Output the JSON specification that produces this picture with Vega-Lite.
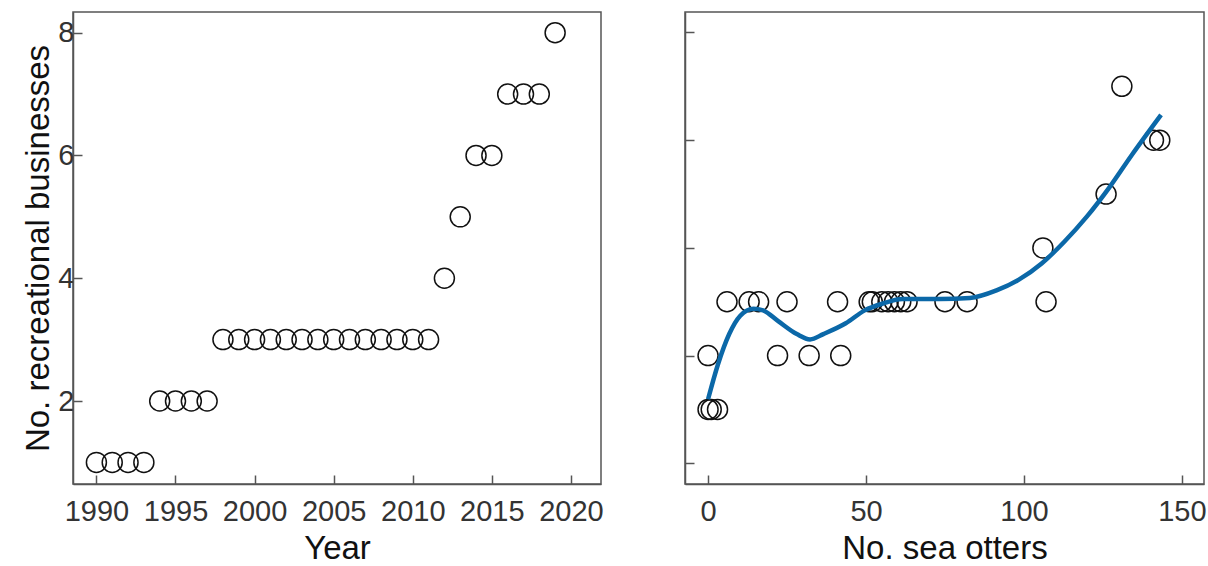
{
  "$schema": "https://vega.github.io/schema/vega-lite/v6.json",
  "padding": {"left": 22, "top": 11, "right": 0, "bottom": 0},
  "background": "white",
  "bounds": "flush",
  "spacing": 84,
  "config": {
    "font": "Liberation Sans",
    "view": {"stroke": "#555555", "strokeWidth": 1.5},
    "axis": {
      "grid": false,
      "domainColor": "#555555",
      "domainWidth": 1.5,
      "tickColor": "#555555",
      "tickWidth": 1.5,
      "tickSize": -9,
      "labelFont": "Liberation Sans",
      "labelFontSize": 29,
      "labelColor": "#333333",
      "titleFont": "Liberation Sans",
      "titleFontSize": 33,
      "titleFontWeight": "normal",
      "titleColor": "#111111"
    }
  },
  "datasets": {
    "years": [
      {"year": 1990, "n": 1}, {"year": 1991, "n": 1}, {"year": 1992, "n": 1}, {"year": 1993, "n": 1},
      {"year": 1994, "n": 2}, {"year": 1995, "n": 2}, {"year": 1996, "n": 2}, {"year": 1997, "n": 2},
      {"year": 1998, "n": 3}, {"year": 1999, "n": 3}, {"year": 2000, "n": 3}, {"year": 2001, "n": 3},
      {"year": 2002, "n": 3}, {"year": 2003, "n": 3}, {"year": 2004, "n": 3}, {"year": 2005, "n": 3},
      {"year": 2006, "n": 3}, {"year": 2007, "n": 3}, {"year": 2008, "n": 3}, {"year": 2009, "n": 3},
      {"year": 2010, "n": 3}, {"year": 2011, "n": 3}, {"year": 2012, "n": 4}, {"year": 2013, "n": 5},
      {"year": 2014, "n": 6}, {"year": 2015, "n": 6}, {"year": 2016, "n": 7}, {"year": 2017, "n": 7},
      {"year": 2018, "n": 7}, {"year": 2019, "n": 8}
    ],
    "otters": [
      {"otters": 0, "n": 1}, {"otters": 1, "n": 1}, {"otters": 3, "n": 1},
      {"otters": 0, "n": 2}, {"otters": 22, "n": 2}, {"otters": 32, "n": 2}, {"otters": 42, "n": 2},
      {"otters": 6, "n": 3}, {"otters": 13, "n": 3}, {"otters": 16, "n": 3}, {"otters": 25, "n": 3},
      {"otters": 41, "n": 3}, {"otters": 51, "n": 3}, {"otters": 52, "n": 3}, {"otters": 55, "n": 3},
      {"otters": 57, "n": 3}, {"otters": 59, "n": 3}, {"otters": 61, "n": 3}, {"otters": 63, "n": 3},
      {"otters": 75, "n": 3}, {"otters": 82, "n": 3}, {"otters": 107, "n": 3},
      {"otters": 106, "n": 4}, {"otters": 126, "n": 5}, {"otters": 141, "n": 6}, {"otters": 143, "n": 6},
      {"otters": 131, "n": 7}
    ],
    "smooth": [
      {"otters": 0, "fit": 1.19}, {"otters": 3.1, "fit": 1.83}, {"otters": 6.7, "fit": 2.4},
      {"otters": 10.2, "fit": 2.74}, {"otters": 14.4, "fit": 2.87}, {"otters": 17.4, "fit": 2.84},
      {"otters": 22.2, "fit": 2.64}, {"otters": 28.1, "fit": 2.4}, {"otters": 32.3, "fit": 2.3},
      {"otters": 36.5, "fit": 2.4}, {"otters": 43.6, "fit": 2.6}, {"otters": 49.6, "fit": 2.84},
      {"otters": 55.5, "fit": 2.97}, {"otters": 61.5, "fit": 3.05}, {"otters": 73.4, "fit": 3.05},
      {"otters": 82.9, "fit": 3.07}, {"otters": 91.3, "fit": 3.21}, {"otters": 98.4, "fit": 3.41},
      {"otters": 105.6, "fit": 3.71}, {"otters": 112.7, "fit": 4.11}, {"otters": 119.9, "fit": 4.58},
      {"otters": 127.0, "fit": 5.12}, {"otters": 134.2, "fit": 5.73}, {"otters": 143.4, "fit": 6.47}
    ]
  },
  "hconcat": [
    {
      "width": 528,
      "height": 472,
      "data": {"name": "years"},
      "mark": {"type": "point", "shape": "circle", "filled": false, "stroke": "#111111", "strokeWidth": 1.5, "size": 400, "opacity": 1},
      "encoding": {
        "x": {"field": "year", "type": "quantitative", "scale": {"domain": [1988.52, 2021.9], "nice": false, "zero": false},
              "axis": {"values": [1990, 1995, 2000, 2005, 2010, 2015, 2020], "format": "d", "title": "Year", "labelPadding": 22, "titlePadding": 6}},
        "y": {"field": "n", "type": "quantitative", "scale": {"domain": [0.648, 8.337], "nice": false, "zero": false},
              "axis": {"values": [2, 4, 6, 8], "title": "No. recreational businesses", "labelPadding": 8, "titlePadding": 2}}
      }
    },
    {
      "width": 519,
      "height": 472,
      "layer": [
        {
          "data": {"name": "otters"},
          "mark": {"type": "point", "shape": "circle", "filled": false, "stroke": "#111111", "strokeWidth": 1.5, "size": 400, "opacity": 1},
          "encoding": {
            "x": {"field": "otters", "type": "quantitative", "scale": {"domain": [-7.3, 157], "nice": false, "zero": false},
                  "axis": {"values": [0, 50, 100, 150], "title": "No. sea otters", "labelPadding": 22, "titlePadding": 6}},
            "y": {"field": "n", "type": "quantitative", "scale": {"domain": [-0.384, 8.38], "nice": false, "zero": false},
                  "axis": {"values": [0, 2, 4, 6, 8], "labels": false, "title": null}}
          }
        },
        {
          "data": {"name": "smooth"},
          "mark": {"type": "line", "color": "#0b68a8", "strokeWidth": 4.5, "interpolate": "monotone"},
          "encoding": {
            "x": {"field": "otters", "type": "quantitative"},
            "y": {"field": "fit", "type": "quantitative"}
          }
        }
      ]
    }
  ]
}
